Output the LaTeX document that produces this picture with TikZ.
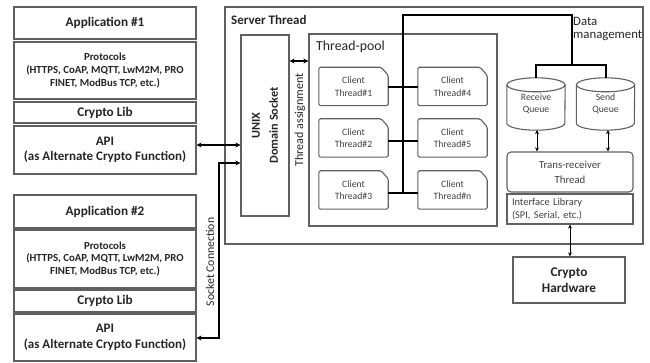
\documentclass[tikz,border=0pt]{standalone}
\usepackage{fontspec}
\setmainfont{Carlito}
\usetikzlibrary{arrows.meta}
\begin{document}
\begin{tikzpicture}[x=1pt,y=-1pt,
  box/.style={draw=gray!75!black, line width=1.1pt, inner sep=1pt, align=center, text=black!85},
  bigb/.style={font=\fontsize{13.2}{15}\selectfont\bfseries},
  protb/.style={font=\fontsize{10.8}{12.8}\selectfont\bfseries},
  apib/.style={font=\fontsize{13}{15.5}\selectfont\bfseries},
  small/.style={font=\fontsize{9.7}{12.5}\selectfont, text=black!75},
  plain/.style={font=\fontsize{12}{13}\selectfont, text=black!85},
  bus/.style={line width=2pt, black, line join=miter},
  conn/.style={line width=1.4pt, black, {Stealth[length=5pt,width=5pt]}-{Stealth[length=5pt,width=5pt]}},
  sconn/.style={line width=1pt, black, {Stealth[length=4pt,width=4pt]}-{Stealth[length=4pt,width=4pt]}},
  clientb/.style={minimum width=69pt, minimum height=38pt, inner sep=1pt, align=center, small},
  cyl/.style={minimum width=58pt, minimum height=52pt, inner sep=0pt, align=center, small}
]
\useasboundingbox (0,0) rectangle (650,363);
\fill[white] (0,0) rectangle (650,363);

% Application 1 stack
\node[box,bigb,minimum width=182pt,minimum height=32pt] (a1) at (105,23) {Application \#1};
\node[box,protb,minimum width=182pt,minimum height=57pt] (p1) at (105,70.5) {Protocols\\(HTTPS, CoAP, MQTT, LwM2M, PRO\\FINET, ModBus TCP, etc.)};
\node[box,bigb,minimum width=182pt,minimum height=21pt] (c1) at (105,112.5) {Crypto Lib};
\node[box,apib,minimum width=182pt,minimum height=48pt] (api1) at (105,150) {API\\(as Alternate Crypto Function)};

% Application 2 stack
\node[box,bigb,minimum width=182pt,minimum height=33pt] (a2) at (105,211.5) {Application \#2};
\node[box,protb,minimum width=182pt,minimum height=58pt] (p2) at (105,259) {Protocols\\(HTTPS, CoAP, MQTT, LwM2M, PRO\\FINET, ModBus TCP, etc.)};
\node[box,bigb,minimum width=182pt,minimum height=22pt] (c2) at (105,301) {Crypto Lib};
\node[box,apib,minimum width=182pt,minimum height=47pt] (api2) at (105,337.5) {API\\(as Alternate Crypto Function)};

% Server thread
\node[box,minimum width=418pt,minimum height=237pt] (st) at (434,125.5) {};
\node[anchor=west,inner sep=0pt,text=black!85,font=\fontsize{13}{15}\selectfont\bfseries] (stl) at (231,20) {Server Thread};
\node[box,minimum width=48pt,minimum height=181pt] (uds) at (265,125.5) {};
\node[rotate=90,align=center,text=black!85,font=\fontsize{12.2}{18}\selectfont\bfseries] (udsl) at (uds.center) {UNIX\\Domain Socket};
\node[box,minimum width=188pt,minimum height=192pt] (pool) at (403,130) {};
\node[plain,anchor=west,inner sep=0pt,font=\fontsize{13.8}{15}\selectfont] (pooll) at (316,47) {Thread-pool};
\node[plain,rotate=90,inner sep=0pt] (tal) at (300,120) {Thread assignment};

% client threads
\foreach \n/\cx/\cy/\t in {ct1/353.5/86.5/1, ct2/353.5/138/2, ct3/353.5/190/3, ct4/452.5/86.5/4, ct5/452.5/138/5, ctn/452.5/190/n}{
  \node[clientb] (\n) at (\cx,\cy) {Client\\Thread\#\t};
  \draw[draw=gray!75!black, line width=1.1pt, rounded corners=1.5pt]
    (\n.south west) -- (\n.north west) -- ([xshift=-7pt]\n.north east) -- ([yshift=-8pt]\n.north east) -- (\n.south east) -- cycle;
}

% data side
\node[cyl] (rq) at (536,104) {Receive\\Queue};
\node[cyl] (sq) at (605.5,104) {Send\\Queue};
\foreach \c in {rq,sq}{
  \draw[draw=gray!75!black, line width=1.1pt]
    ([yshift=-7pt]\c.north west) -- ([yshift=7pt]\c.south west)
    arc[start angle=180, end angle=360, x radius=29pt, y radius=7pt]
    -- ([yshift=-7pt]\c.north east);
  \draw[draw=gray!75!black, line width=1.1pt] ([yshift=-7pt]\c.north) ellipse [x radius=29pt, y radius=7pt];
}
\node[box,minimum width=126pt,minimum height=40pt,rounded corners=4pt,font=\fontsize{10.8}{15}\selectfont,text=black!75] (tr) at (570,172) {Trans-receiver\\Thread};
\node[box,minimum width=126pt,minimum height=30pt,font=\fontsize{10.4}{13}\selectfont,text=black!75,align=left,text width=116pt] (il) at (570,209) {Interface Library\\(SPI, Serial, etc.)};
\node[box,bigb,minimum width=112pt,minimum height=46pt,font=\fontsize{13.3}{16}\selectfont\bfseries] (ch) at (569,280) {Crypto\\Hardware};
\node[plain,anchor=north west,align=left,inner sep=0pt,font=\fontsize{12.8}{13.5}\selectfont] (dm) at (573,17) {Data\\management};

% bus
\coordinate (b0) at (403,15);
\coordinate (b1) at (572,15);
\coordinate (b2) at (572,65);
\coordinate (jb) at (403,193);
\coordinate (r1) at (0,87);
\coordinate (r2) at (0,141);
\coordinate (r3) at (0,193);
\draw[bus] (jb) -- (b0) -- (b1) -- (b2);
\draw[bus] (rq.north) -- (rq.north |- b2) -- (sq.north |- b2) -- (sq.north);
\draw[bus] (ct1.east |- r1) -- (ct4.west |- r1);
\draw[bus] (ct2.east |- r2) -- (ct5.west |- r2);
\draw[bus] (ct3.east |- r3) -- (ctn.west |- r3);

% arrows
\coordinate (s1) at (0,145);
\coordinate (s2) at (0,163);
\coordinate (s3) at (219,338);
\coordinate (s4) at (0,61);
\draw[conn] (api1.east |- s1) -- (uds.west |- s1);
\draw[conn] (api2.east |- s3) -- (s3) |- (uds.west |- s2);
\draw[conn] (uds.east |- s4) -- (pool.west |- s4);
\node[plain,rotate=90,inner sep=0pt,font=\fontsize{11.8}{13}\selectfont] (scl) at (210,262) {Socket Connection};
\draw[sconn] ([xshift=1pt]rq.south) -- ([xshift=1pt]tr.north -| rq.south);
\draw[sconn] ([xshift=2.5pt]sq.south) -- ([xshift=2.5pt]tr.north -| sq.south);
\draw[sconn] ([xshift=0pt]il.south) -- (il.south |- ch.north);
\end{tikzpicture}
\end{document}
